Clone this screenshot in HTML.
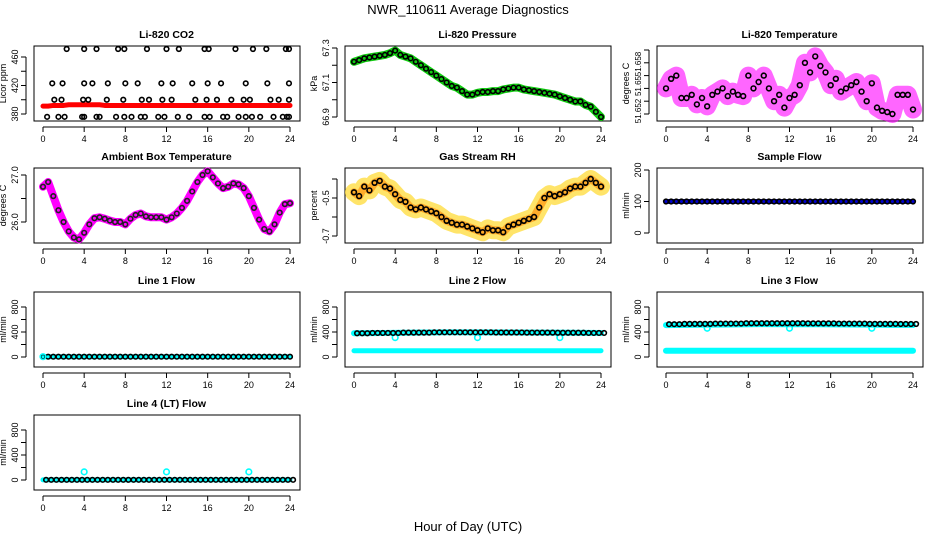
<!DOCTYPE html>
<html><head><meta charset="utf-8">
<style>
body{margin:0;background:#fff;}
svg{display:block;font-family:"Liberation Sans",sans-serif;}
</style></head>
<body>
<svg id="c" width="936" height="540" viewBox="0 0 936 540" xmlns="http://www.w3.org/2000/svg">
<rect width="936" height="540" fill="#fff"/>
<text x="468" y="14" text-anchor="middle" font-size="13">NWR_110611  Average Diagnostics</text>
<text x="468" y="531" text-anchor="middle" font-size="13">Hour of Day (UTC)</text>
</svg>
<script>
// ---- data ----
const hoursHalf = [0,0.5,1,1.5,2,2.5,3,3.5,4,4.5,5,5.5,6,6.5,7,7.5,8,8.5,9,9.5,10,10.5,11,11.5,12,12.5,13,13.5,14,14.5,15,15.5,16,16.5,17,17.5,18,18.5,19,19.5,20,20.5,21,21.5,22,22.5,23,23.5,24];
const xTicks = [0,4,8,12,16,20,24];
const co2Red = [391,391,392,392,392,393,393,393,393,393,393,393,392,392,392,392,392,392,392,392,392,392,392,392,392,392,392,392,392,392,392,392,392,392,392,392,392,392,392,392,392,392,392,392,392,392,392,392,392];
const co2BlackHours = [0.4,1.5,2.1,3.8,4.0,5.2,5.5,7.1,7.9,8.6,9.5,9.9,11.2,11.8,13.1,14.2,15.7,16.2,17.5,17.9,19.0,19.7,20.3,21.1,22.4,23.3,23.7,23.9,0.9,1.9,4.0,4.8,6.3,8.0,9.2,11.5,12.6,14.5,16.0,17.3,19.7,21.8,23.9,1.1,1.8,3.9,4.4,6.2,7.8,9.6,10.3,11.6,12.5,14.8,15.9,16.9,18.3,19.5,20.1,22.1,22.9,23.9];
const co2BlackVals = [376,376,376,376,376,376,376,376,376,376,376,376,376,376,376,376,376,376,376,376,376,376,376,376,376,376,376,376,423,423,423,423,423,423,423,423,423,423,423,423,423,423,423,400,400,400,400,400,400,400,400,400,400,400,400,400,400,400,400,400,400,400];
const co2TopHours = [2.3,4.0,5.2,7.3,7.9,10.1,12.0,13.2,15.7,16.1,18.7,20.4,21.7,23.6,23.9];
const pressure = [67.22,67.23,67.24,67.245,67.25,67.255,67.26,67.27,67.285,67.26,67.25,67.24,67.22,67.2,67.18,67.16,67.14,67.12,67.1,67.08,67.07,67.05,67.03,67.03,67.04,67.045,67.045,67.05,67.05,67.06,67.065,67.07,67.07,67.06,67.055,67.05,67.045,67.04,67.035,67.03,67.02,67.01,67.0,66.99,66.99,66.97,66.96,66.93,66.9];
const liTemp = [51.6540,51.6555,51.6560,51.6525,51.6525,51.6530,51.6515,51.6525,51.6512,51.6530,51.6535,51.6540,51.6528,51.6535,51.6530,51.6528,51.6560,51.6540,51.6550,51.6560,51.6540,51.6520,51.6530,51.6510,51.6525,51.6530,51.6545,51.6580,51.6565,51.6590,51.6575,51.6565,51.6545,51.6555,51.6535,51.6540,51.6545,51.6550,51.6535,51.6520,51.6548,51.6510,51.6505,51.6503,51.6500,51.6530,51.6530,51.6530,51.6507];
const ambient = [26.75,26.85,26.55,26.25,26.0,25.8,25.67,25.63,25.77,25.95,26.08,26.1,26.07,26.03,26.0,26.0,25.95,26.07,26.15,26.18,26.12,26.1,26.1,26.1,26.05,26.1,26.18,26.3,26.45,26.65,26.85,27.0,27.08,26.95,26.82,26.72,26.75,26.82,26.8,26.72,26.55,26.3,26.05,25.85,25.8,25.95,26.2,26.38,26.4];
const rh = [-0.47,-0.49,-0.44,-0.46,-0.42,-0.41,-0.44,-0.45,-0.48,-0.51,-0.52,-0.55,-0.56,-0.55,-0.56,-0.57,-0.58,-0.6,-0.62,-0.63,-0.64,-0.64,-0.65,-0.66,-0.67,-0.68,-0.66,-0.67,-0.67,-0.68,-0.65,-0.64,-0.63,-0.62,-0.61,-0.6,-0.55,-0.5,-0.48,-0.49,-0.48,-0.47,-0.45,-0.44,-0.44,-0.42,-0.40,-0.42,-0.44];
const sampleFlow = 100;
const line1Black = 5, line1Cyan = 5;
const line2Black = [380,385,390,395,395,392,390,388,385];
const line2CyanLow = 100, line2Dips = [4,12,20], line2DipVal = 310;
const line3Black = [525,530,535,540,540,538,535,530,528];
const line3CyanLow = 100, line3Dips = [4,12,20], line3DipVal = 460;
const line4Cyan = 3, line4Spikes = [4,12,20], line4SpikeVal = 130;
const liTempLabels = ['51.652','51.65','51.658'];
const liTempLabelY = [111,86,64];

// ---- layout ----
const svg = document.getElementById('c');
const NS = 'http://www.w3.org/2000/svg';
const colX0 = [43,354,666];
const rowTop = [46,168,292,415];
const BH = 75, XW = 247;
function el(tag, at, parent){const e=document.createElementNS(NS,tag);for(const k in at)e.setAttribute(k,at[k]);(parent||svg).appendChild(e);return e;}

function panel(col,row,title,yLab,ymin,ymax,ylo,yhi,yTicks,yTickLabels,name){
  const x0=colX0[col], top=rowTop[row];
  const g=el('g',{});
  
  
  const sx=h=>x0+h/24*XW;
  const sy=v=>ylo+(v-ymin)/(ymax-ymin)*(yhi-ylo);
  const box=el('rect',{x:x0-9,y:top,width:XW+19,height:BH,fill:'none',stroke:'#000','stroke-width':1},g);
  
  
  const t=el('text',{x:x0+XW/2,y:top-8,'text-anchor':'middle','font-size':10.5,'font-weight':'bold'},g);
  t.textContent=title;
  
  
  const bot=top+BH;
  el('line',{x1:sx(0),x2:sx(24),y1:bot+6,y2:bot+6,stroke:'#000'},g);
  xTicks.forEach(h=>{
    el('line',{x1:sx(h),x2:sx(h),y1:bot+6,y2:bot+11,stroke:'#000'},g);
    const tl=el('text',{x:sx(h),y:bot+21,'text-anchor':'middle','font-size':9},g);
    tl.textContent=h;
    
    
  });
  const axX=x0-17;
  el('line',{x1:axX,x2:axX,y1:sy(yTicks[0]),y2:sy(yTicks[yTicks.length-1]),stroke:'#000'},g);
  yTicks.forEach((v,i)=>{
    el('line',{x1:axX-5,x2:axX,y1:sy(v),y2:sy(v),stroke:'#000'},g);
    if(yTickLabels && yTickLabels[i]!==''){
      const tl=el('text',{x:axX-8,y:sy(v),'text-anchor':'middle','font-size':9,transform:`rotate(-90 ${axX-8} ${sy(v)})`},g);
      tl.textContent=yTickLabels[i];
      
      
    }
  });
  const yl=el('text',{x:axX-20,y:top+BH/2,'text-anchor':'middle','font-size':9,transform:`rotate(-90 ${axX-20} ${top+BH/2})`},g);
  yl.textContent=yLab;
  
  
  return {g,sx,sy,axX};
}
function circ(p,x,y,color,r,name){
  const c=el('circle',{cx:x,cy:y,r:r||2.6,fill:'none',stroke:color,'stroke-width':1.6},p.g);
  
  
}
function band(p,hours,vals,color,w,name,op){
  const d=hours.map((h,i)=>(i?'L':'M')+p.sx(h)+','+p.sy(vals[i])).join(' ');
  const b=el('path',{d,fill:'none',stroke:color,'stroke-width':w,'stroke-linejoin':'round','stroke-linecap':'round','stroke-opacity':op||1},p.g);
  
  
}
function flat(v){return hoursHalf.map(()=>v);}
function interpHours(arr){return arr.map((_,i)=>i*24/(arr.length-1));}

// CO2
let p=panel(0,0,'Li-820 CO2','Licor ppm',380,460,114,57,[380,400,420,440,460],['380','','420','','460'],'co2');
band(p,hoursHalf,co2Red,'#f00',5,'co2-red-band');
co2BlackHours.forEach((h,i)=>circ(p,p.sx(h),p.sy(co2BlackVals[i]),'#000',2.3,'co2-point'));
co2TopHours.forEach(h=>circ(p,p.sx(h),49,'#000',2.3,'co2-offscale-point'));

// Pressure
p=panel(1,0,'Li-820 Pressure','kPa',66.9,67.3,117,48,[66.9,67.0,67.1,67.2,67.3],['66.9','','67.1','','67.3'],'pressure');
band(p,hoursHalf,pressure,'#1c1',8,'pressure-green-band');
hoursHalf.forEach((h,i)=>circ(p,p.sx(h),p.sy(pressure[i]),'#000',2.3,'pressure-point'));

// Li temperature
p=panel(2,0,'Li-820 Temperature','degrees C',51.650,51.660,114,50,[51.650,51.652,51.654,51.656,51.658,51.660],null,'li-temp');
liTempLabels.forEach((s,i)=>{
  const x=p.axX-8, y=liTempLabelY[i];
  const tl=el('text',{x,y,'text-anchor':'middle','font-size':8,transform:`rotate(-90 ${x} ${y})`},p.g);
  tl.textContent=s;
  
  
});
band(p,hoursHalf,liTemp,'#f0f',18,'li-temp-magenta-cloud',0.6);
hoursHalf.forEach((h,i)=>circ(p,p.sx(h),p.sy(liTemp[i]),'#000',2.4,'li-temp-point'));

// Ambient
p=panel(0,1,'Ambient Box Temperature','degrees C',26.0,27.0,222,175,[26.0,26.5,27.0],['26.0','','27.0'],'ambient');
band(p,hoursHalf,ambient,'#f0f',8,'ambient-magenta-band');
hoursHalf.forEach((h,i)=>circ(p,p.sx(h),p.sy(ambient[i]),'#222',2.3,'ambient-point'));

// RH
p=panel(1,1,'Gas Stream RH','percent',-0.7,-0.5,236,198,[-0.7,-0.6,-0.5,-0.4],['-0.7','','-0.5',''],'rh');
band(p,hoursHalf,rh,'#fd4',18,'rh-yellow-cloud',0.8);
band(p,hoursHalf,rh,'#f80',8,'rh-orange-core',0.6);
hoursHalf.forEach((h,i)=>circ(p,p.sx(h),p.sy(rh[i]),'#000',2.4,'rh-point'));

// Sample flow
p=panel(2,1,'Sample Flow','ml/min',0,200,233,170,[0,100,200],['0','100','200'],'sample-flow');
band(p,hoursHalf,flat(sampleFlow),'#00c',5,'sample-flow-blue-band');
hoursHalf.forEach(h=>circ(p,p.sx(h),p.sy(sampleFlow),'#000',2.3,'sample-flow-point'));

function flowPanel(col,row,title,name){
  const top=rowTop[row];
  return panel(col,row,title,'ml/min',0,800,top+65,top+15,[0,200,400,600,800],['0','','400','','800'],name);
}
// Line 1
p=flowPanel(0,2,'Line 1 Flow','line1');
band(p,hoursHalf,flat(line1Cyan),'#0ff',5,'line1-cyan-band');
hoursHalf.forEach(h=>circ(p,p.sx(h),p.sy(line1Black),'#000',2.3,'line1-point'));
circ(p,p.sx(0),p.sy(line1Cyan),'#0ff',2.8,'line1-cyan-point');

// Line 2
p=flowPanel(1,2,'Line 2 Flow','line2');
band(p,hoursHalf,flat(line2CyanLow),'#0ff',5,'line2-cyan-low-band');
band(p,interpHours(line2Black),line2Black,'#0ff',6,'line2-cyan-high-band');
line2Dips.forEach(h=>circ(p,p.sx(h),p.sy(line2DipVal),'#0ff',2.8,'line2-cyan-dip'));
hoursHalf.forEach((h,i)=>{const k=Math.min(line2Black.length-1,Math.round(h/3));circ(p,p.sx(h+0.3),p.sy(line2Black[k]),'#000',2.3,'line2-point');});

// Line 3
p=flowPanel(2,2,'Line 3 Flow','line3');
band(p,hoursHalf,flat(line3CyanLow),'#0ff',6,'line3-cyan-low-band');
band(p,interpHours(line3Black),line3Black.map(v=>v-15),'#0ff',6,'line3-cyan-high-band');
line3Dips.forEach(h=>circ(p,p.sx(h),p.sy(line3DipVal),'#0ff',2.8,'line3-cyan-dip'));
hoursHalf.forEach((h,i)=>{const k=Math.min(line3Black.length-1,Math.round(h/3));circ(p,p.sx(h+0.3),p.sy(line3Black[k]),'#000',2.3,'line3-point');});

// Line 4
p=flowPanel(0,3,'Line 4 (LT) Flow','line4');
band(p,hoursHalf,flat(line4Cyan),'#0ff',5,'line4-cyan-band');
line4Spikes.forEach(h=>circ(p,p.sx(h),p.sy(line4SpikeVal),'#0ff',2.8,'line4-cyan-spike'));
hoursHalf.forEach(h=>circ(p,p.sx(h+0.3),p.sy(line4Cyan),'#000',2.3,'line4-point'));
</script>
</body></html>
